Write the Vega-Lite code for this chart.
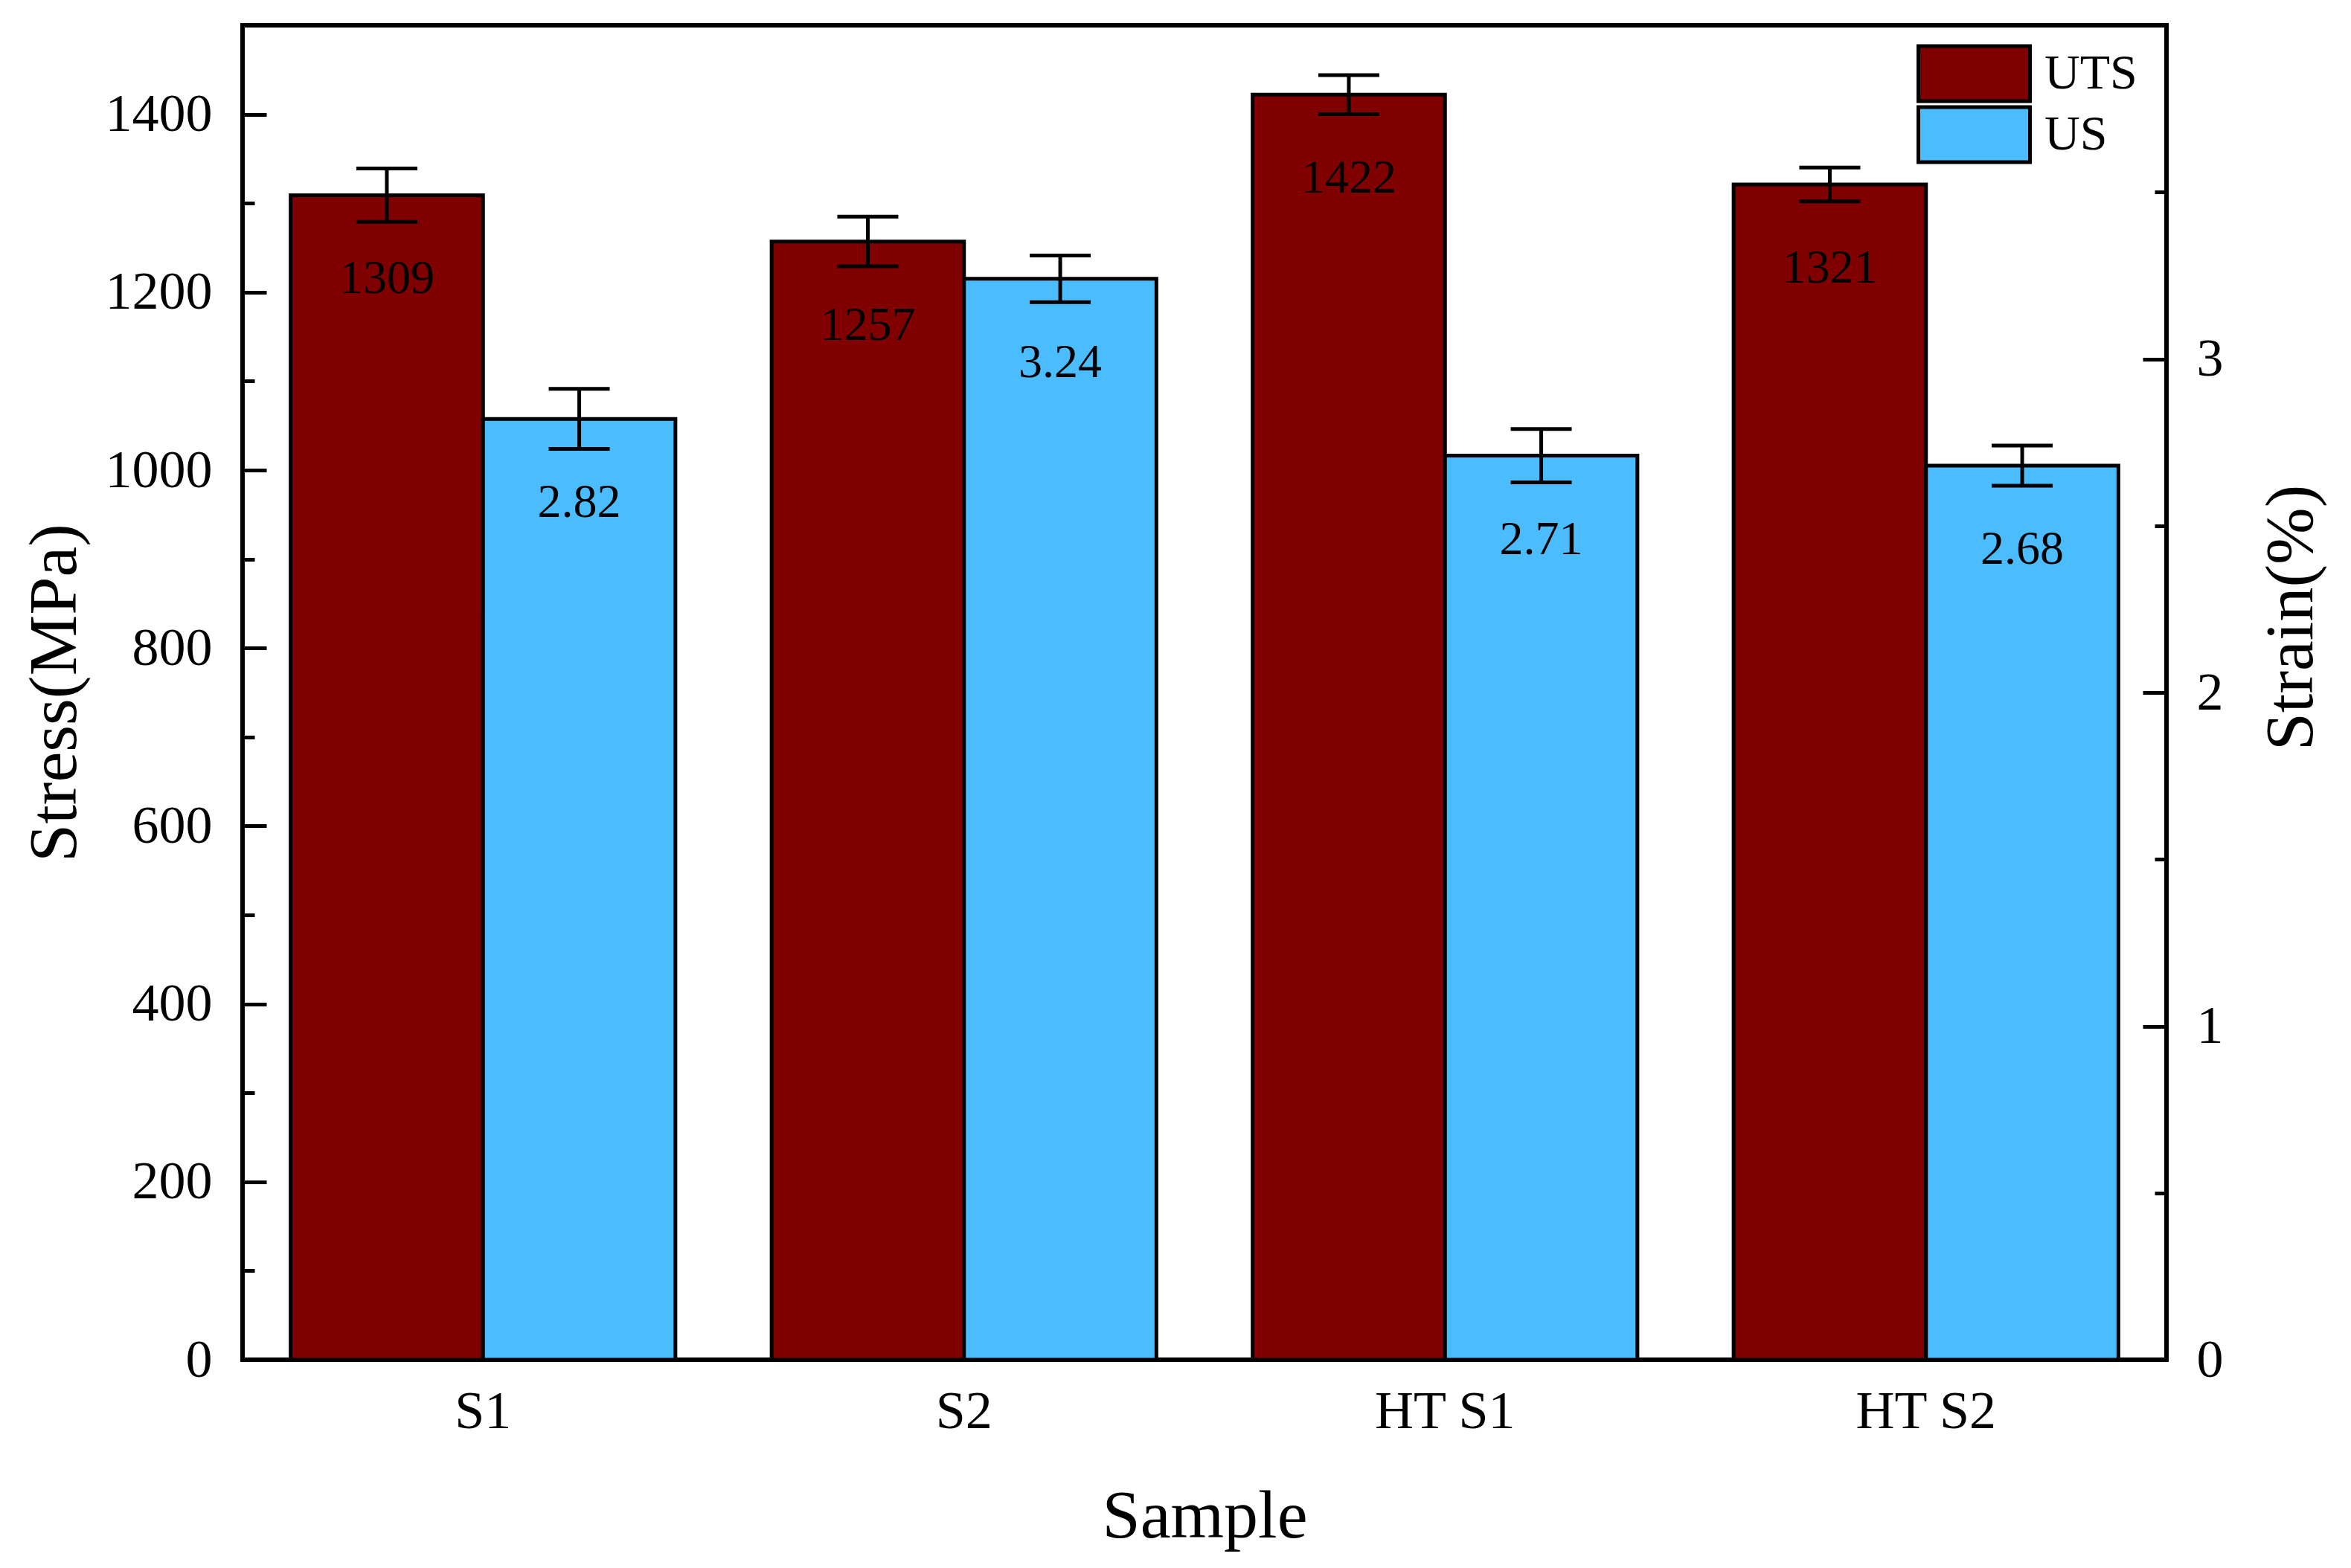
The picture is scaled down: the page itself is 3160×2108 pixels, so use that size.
{
  "$schema": "https://vega.github.io/schema/vega-lite/v6.json",
  "width": 2586,
  "height": 1794,
  "autosize": {"type": "none"},
  "padding": {"left": 326, "top": 34, "right": 248, "bottom": 280},
  "background": "white",
  "config": {
    "font": "Liberation Serif",
    "view": {"stroke": "black", "strokeWidth": 6},
    "axis": {
      "grid": false,
      "domain": false,
      "labelFont": "Liberation Serif",
      "titleFont": "Liberation Serif",
      "labelColor": "black",
      "titleColor": "black",
      "tickColor": "black",
      "tickWidth": 5,
      "labelFontSize": 72,
      "titleFontSize": 92,
      "titleFontWeight": "normal",
      "labelLimit": 1000
    },
    "legend": {"labelFont": "Liberation Serif"}
  },
  "data": {
    "values": [
      {"sample": "S1", "type": "UTS", "value": 1309, "lo": 1279, "hi": 1339},
      {"sample": "S2", "type": "UTS", "value": 1257, "lo": 1229, "hi": 1285},
      {"sample": "HT S1", "type": "UTS", "value": 1422, "lo": 1400, "hi": 1444},
      {"sample": "HT S2", "type": "UTS", "value": 1321, "lo": 1302, "hi": 1340},
      {"sample": "S1", "type": "US", "value": 2.82, "lo": 2.73, "hi": 2.91},
      {"sample": "S2", "type": "US", "value": 3.24, "lo": 3.17, "hi": 3.31},
      {"sample": "HT S1", "type": "US", "value": 2.71, "lo": 2.63, "hi": 2.79},
      {"sample": "HT S2", "type": "US", "value": 2.68, "lo": 2.62, "hi": 2.74}
    ]
  },
  "layer": [
    {
      "transform": [{"filter": "datum.type === 'UTS'"}],
      "encoding": {
        "x": {
          "field": "sample",
          "type": "nominal",
          "sort": ["S1", "S2", "HT S1", "HT S2"],
          "scale": {"paddingInner": 0.2, "paddingOuter": 0.1},
          "title": "Sample",
          "axis": {"orient": "bottom", "ticks": false, "labelAngle": 0, "labelPadding": 34, "titlePadding": 60, "labelLimit": 1000}
        },
        "xOffset": {
          "field": "type",
          "type": "nominal",
          "scale": {"domain": ["UTS", "US"], "paddingInner": 0, "paddingOuter": 0}
        }
      },
      "layer": [
        {
          "mark": {"type": "bar", "stroke": "black", "strokeWidth": 5},
          "encoding": {
            "y": {
              "field": "value",
              "type": "quantitative",
              "scale": {"domain": [0, 1500], "nice": false, "zero": true},
              "title": "Stress(MPa)",
              "axis": {"orient": "left", "values": [0, 200, 400, 600, 800, 1000, 1200, 1400], "format": "d", "tickSize": -32, "labelPadding": 73, "titlePadding": 21}
            },
            "fill": {
              "field": "type",
              "type": "nominal",
              "scale": {"domain": ["UTS", "US"], "range": ["#800000", "#4bbcfd"]},
              "legend": {
                "orient": "none",
                "legendX": 2250,
                "legendY": 24,
                "title": null,
                "padding": 0,
                "symbolType": "M-1,-0.949H2.846V0.949H-1Z",
                "symbolSize": 6084,
                "symbolStrokeColor": "black",
                "symbolStrokeWidth": 5,
                "symbolOpacity": 1,
                "labelFontSize": 66,
                "labelColor": "black",
                "labelOffset": 89,
                "rowPadding": 0,
                "clipHeight": 82
              }
            }
          }
        },
        {
          "mark": {"type": "rule", "strokeWidth": 5, "color": "black"},
          "encoding": {
            "y": {"field": "lo", "type": "quantitative", "title": "Stress(MPa)", "axis": {"orient": "left", "values": [0, 200, 400, 600, 800, 1000, 1200, 1400], "format": "d", "tickSize": -32, "labelPadding": 73, "titlePadding": 21}},
            "y2": {"field": "hi"}
          }
        },
        {
          "mark": {"type": "tick", "thickness": 5, "size": 82, "color": "black", "opacity": 1},
          "encoding": {"y": {"field": "lo", "type": "quantitative", "title": "Stress(MPa)", "axis": {"orient": "left", "values": [0, 200, 400, 600, 800, 1000, 1200, 1400], "format": "d", "tickSize": -32, "labelPadding": 73, "titlePadding": 21}}}
        },
        {
          "mark": {"type": "tick", "thickness": 5, "size": 82, "color": "black", "opacity": 1},
          "encoding": {"y": {"field": "hi", "type": "quantitative", "title": "Stress(MPa)", "axis": {"orient": "left", "values": [0, 200, 400, 600, 800, 1000, 1200, 1400], "format": "d", "tickSize": -32, "labelPadding": 73, "titlePadding": 21}}}
        },
        {
          "mark": {"type": "text", "baseline": "middle", "align": "center", "dy": 113, "fontSize": 64, "font": "Liberation Serif", "color": "black"},
          "encoding": {
            "y": {"field": "value", "type": "quantitative", "title": "Stress(MPa)", "axis": {"orient": "left", "values": [0, 200, 400, 600, 800, 1000, 1200, 1400], "format": "d", "tickSize": -32, "labelPadding": 73, "titlePadding": 21}},
            "text": {"field": "value", "type": "quantitative", "format": ".0f"}
          }
        }
      ]
    },
    {
      "transform": [{"filter": "datum.type === 'US'"}],
      "encoding": {
        "x": {
          "field": "sample",
          "type": "nominal",
          "sort": ["S1", "S2", "HT S1", "HT S2"],
          "scale": {"paddingInner": 0.2, "paddingOuter": 0.1},
          "title": "Sample",
          "axis": {"orient": "bottom", "ticks": false, "labelAngle": 0, "labelPadding": 34, "titlePadding": 60, "labelLimit": 1000}
        },
        "xOffset": {
          "field": "type",
          "type": "nominal",
          "scale": {"domain": ["UTS", "US"], "paddingInner": 0, "paddingOuter": 0}
        }
      },
      "layer": [
        {
          "mark": {"type": "bar", "stroke": "black", "strokeWidth": 5},
          "encoding": {
            "y": {
              "field": "value",
              "type": "quantitative",
              "scale": {"domain": [0, 4], "nice": false, "zero": true},
              "title": "Strain(%)",
              "axis": {"orient": "right", "values": [0, 1, 2, 3], "tickSize": -32, "labelPadding": 72, "titlePadding": 46, "titleAngle": 270, "titleBaseline": "top", "titleY": 796, "format": "d"}
            },
            "fill": {"field": "type", "type": "nominal"}
          }
        },
        {
          "mark": {"type": "rule", "strokeWidth": 5, "color": "black"},
          "encoding": {
            "y": {"field": "lo", "type": "quantitative", "title": "Strain(%)", "axis": {"orient": "right", "values": [0, 1, 2, 3], "tickSize": -32, "labelPadding": 72, "titlePadding": 46, "titleAngle": 270, "titleBaseline": "top", "titleY": 796, "format": "d"}},
            "y2": {"field": "hi"}
          }
        },
        {
          "mark": {"type": "tick", "thickness": 5, "size": 82, "color": "black", "opacity": 1},
          "encoding": {"y": {"field": "lo", "type": "quantitative", "title": "Strain(%)", "axis": {"orient": "right", "values": [0, 1, 2, 3], "tickSize": -32, "labelPadding": 72, "titlePadding": 46, "titleAngle": 270, "titleBaseline": "top", "titleY": 796, "format": "d"}}}
        },
        {
          "mark": {"type": "tick", "thickness": 5, "size": 82, "color": "black", "opacity": 1},
          "encoding": {"y": {"field": "hi", "type": "quantitative", "title": "Strain(%)", "axis": {"orient": "right", "values": [0, 1, 2, 3], "tickSize": -32, "labelPadding": 72, "titlePadding": 46, "titleAngle": 270, "titleBaseline": "top", "titleY": 796, "format": "d"}}}
        },
        {
          "mark": {"type": "text", "baseline": "middle", "align": "center", "dy": 113, "fontSize": 64, "font": "Liberation Serif", "color": "black"},
          "encoding": {
            "y": {"field": "value", "type": "quantitative", "title": "Strain(%)", "axis": {"orient": "right", "values": [0, 1, 2, 3], "tickSize": -32, "labelPadding": 72, "titlePadding": 46, "titleAngle": 270, "titleBaseline": "top", "titleY": 796, "format": "d"}},
            "text": {"field": "value", "type": "quantitative", "format": ".2f"}
          }
        }
      ]
    },
    {
      "mark": {"type": "rule", "opacity": 0},
      "encoding": {
        "y": {
          "field": "lo",
          "type": "quantitative",
          "scale": {"domain": [0, 1500], "nice": false},
          "axis": {"orient": "left", "values": [100, 300, 500, 700, 900, 1100, 1300], "tickSize": -16, "labels": false, "title": null}
        }
      }
    },
    {
      "mark": {"type": "rule", "opacity": 0},
      "encoding": {
        "y": {
          "field": "lo",
          "type": "quantitative",
          "scale": {"domain": [0, 4], "nice": false},
          "axis": {"orient": "right", "values": [0.5, 1.5, 2.5, 3.5], "tickSize": -16, "labels": false, "title": null}
        }
      }
    }
  ],
  "resolve": {"scale": {"y": "independent"}}
}
